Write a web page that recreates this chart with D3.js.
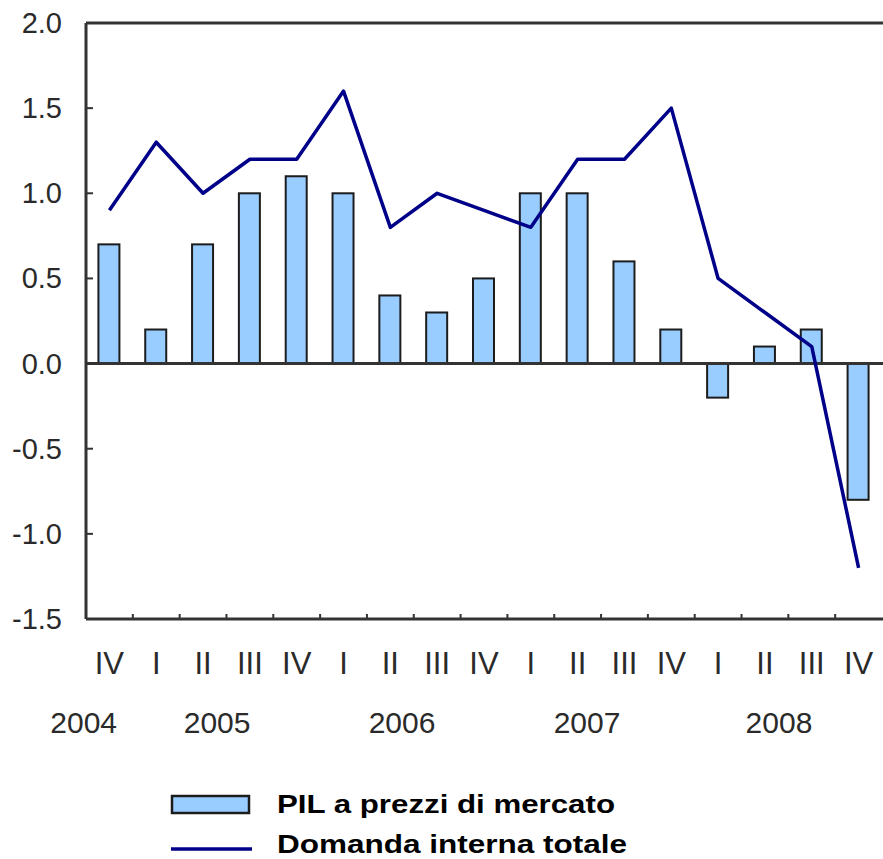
<!DOCTYPE html>
<html>
<head>
<meta charset="utf-8">
<script src="https://cdn.jsdelivr.net/npm/d3@7.9.0/dist/d3.min.js"></script>
<style>
  body { margin: 0; background: #fff; }
  text { font-family: "Liberation Sans", Arial, sans-serif; }
</style>
</head>
<body>
<svg id="chart" width="883" height="859"></svg>
<script>
// Quarters and values
const quarters = ['IV', 'I', 'II', 'III', 'IV', 'I', 'II', 'III', 'IV', 'I', 'II', 'III', 'IV', 'I', 'II', 'III', 'IV'];
const pil = [0.7, 0.2, 0.7, 1.0, 1.1, 1.0, 0.4, 0.3, 0.5, 1.0, 1.0, 0.6, 0.2, -0.2, 0.1, 0.2, -0.8];
const domanda = [0.9, 1.3, 1.0, 1.2, 1.2, 1.6, 0.8, 1.0, 0.9, 0.8, 1.2, 1.2, 1.5, 0.5, 0.3, 0.1, -1.2];
const yTicks = [2.0, 1.5, 1.0, 0.5, 0.0, -0.5, -1.0, -1.5];
const years = ['2004', '2005', '2006', '2007', '2008'];
// where each year label sits, in quarter-index units
const yearAt = [-0.55, 2.3, 6.25, 10.2, 14.3];

const plotLeft = 86, plotRight = 882, plotTop = 23, plotBottom = 619;
const svg = d3.select('#chart');

const x = d3.scaleBand().domain(d3.range(quarters.length)).range([plotLeft, plotRight]);
const xc = (i) => x(i) + x.bandwidth() / 2;
const xPos = d3.scaleLinear().domain([0, quarters.length]).range([plotLeft, plotRight]);
const y = d3.scaleLinear().domain([-1.5, 2.0]).range([plotBottom, plotTop]);

const axisColor = '#333';
const textColor = '#2a2a2a';

// bars
svg.append('g')
  .selectAll('rect')
  .data(pil)
  .join('rect')
  .attr('x', (d, i) => xc(i) - 11)
  .attr('width', 21)
  .attr('y', (d) => y(Math.max(0, d)))
  .attr('height', (d) => Math.abs(y(d) - y(0)))
  .attr('fill', '#99ccff')
  .attr('stroke', '#1c1c1c')
  .attr('stroke-width', 2);

// frame lines
[plotTop, y(0), plotBottom].forEach((yy) => {
  svg.append('line').attr('x1', plotLeft).attr('x2', 883).attr('y1', yy).attr('y2', yy)
    .attr('stroke', axisColor).attr('stroke-width', 3);
});
svg.append('line').attr('x1', plotLeft).attr('x2', plotLeft).attr('y1', plotTop).attr('y2', plotBottom)
  .attr('stroke', axisColor).attr('stroke-width', 3);

// y ticks and labels
svg.append('g')
  .selectAll('line')
  .data(yTicks)
  .join('line')
  .attr('x1', plotLeft).attr('x2', plotLeft + 7)
  .attr('y1', (d) => y(d)).attr('y2', (d) => y(d))
  .attr('stroke', axisColor).attr('stroke-width', 2);

svg.append('g')
  .selectAll('text')
  .data(yTicks)
  .join('text')
  .attr('x', 62)
  .attr('y', (d) => y(d) + 10)
  .attr('text-anchor', 'end')
  .attr('font-size', 29)
  .attr('fill', textColor)
  .text((d) => d.toFixed(1));

// x ticks at quarter boundaries
svg.append('g')
  .selectAll('line')
  .data(d3.range(1, quarters.length))
  .join('line')
  .attr('x1', (d) => xPos(d)).attr('x2', (d) => xPos(d))
  .attr('y1', plotBottom).attr('y2', plotBottom - 5)
  .attr('stroke', axisColor).attr('stroke-width', 2);

// quarter labels
svg.append('g')
  .selectAll('text')
  .data(quarters)
  .join('text')
  .attr('x', (d, i) => xc(i))
  .attr('y', 674)
  .attr('text-anchor', 'middle')
  .attr('font-size', 31)
  .attr('fill', textColor)
  .text((d) => d);

// year labels
svg.append('g')
  .selectAll('text')
  .data(years)
  .join('text')
  .attr('x', (d, i) => xPos(yearAt[i] + 0.5))
  .attr('y', 733)
  .attr('text-anchor', 'middle')
  .attr('font-size', 30)
  .attr('fill', textColor)
  .text((d) => d);

// line
const line = d3.line().x((d, i) => xc(i)).y((d) => y(d));
svg.append('path')
  .datum(domanda)
  .attr('d', line)
  .attr('fill', 'none')
  .attr('stroke', '#000088')
  .attr('stroke-width', 3.5)
  .attr('stroke-linejoin', 'round');

// legend
const legend = svg.append('g');
legend.append('rect')
  .attr('x', 172).attr('y', 796).attr('width', 77).attr('height', 17)
  .attr('fill', '#99ccff').attr('stroke', '#1c1c1c').attr('stroke-width', 2.5);
legend.append('line')
  .attr('x1', 171).attr('x2', 252).attr('y1', 849).attr('y2', 849)
  .attr('stroke', '#000088').attr('stroke-width', 3.5);
legend.append('text')
  .attr('x', 277).attr('y', 813)
  .attr('font-size', 25).attr('font-weight', 'bold').attr('fill', '#000')
  .attr('textLength', 338).attr('lengthAdjust', 'spacingAndGlyphs')
  .text('PIL a prezzi di mercato');
legend.append('text')
  .attr('x', 277).attr('y', 853)
  .attr('font-size', 25).attr('font-weight', 'bold').attr('fill', '#000')
  .attr('textLength', 350).attr('lengthAdjust', 'spacingAndGlyphs')
  .text('Domanda interna totale');
</script>
</body>
</html>
